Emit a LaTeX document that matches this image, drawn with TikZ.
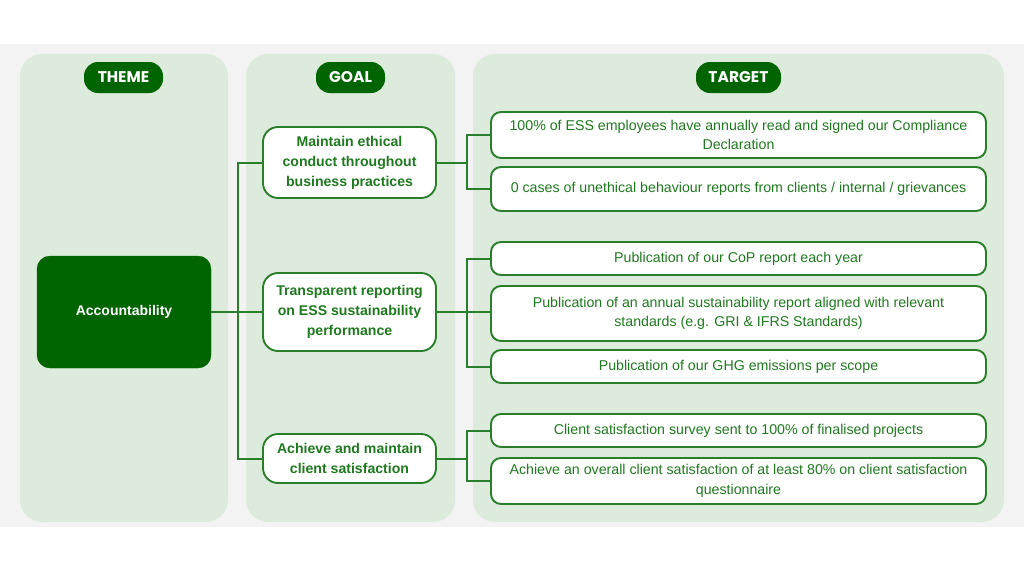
\documentclass[tikz,border=0pt]{standalone}
\usepackage{fontspec}
\setmainfont{Liberation Sans}
\newfontfamily\headfont{Poppins}
\definecolor{bandgray}{HTML}{F3F3F3}
\definecolor{panelgreen}{HTML}{DCEBDC}
\definecolor{darkgreen}{HTML}{006400}
\definecolor{linegreen}{HTML}{2A7F2A}
\definecolor{textgreen}{HTML}{1F7A1F}
\tikzset{
  panel/.style={fill=panelgreen, draw=none, rounded corners=22pt},
  pill/.style={fill=darkgreen, rounded corners=14pt, text=white, font=\headfont\bfseries\fontsize{15.5}{17}\selectfont, inner sep=0pt, minimum height=31pt},
  themebox/.style={fill=darkgreen, draw=darkgreen, rounded corners=13pt, text=white, font=\bfseries\fontsize{14}{20}\selectfont, minimum width=174pt, minimum height=112pt, inner sep=0pt},
  goalbox/.style={fill=white, draw=linegreen, line width=1.9pt, rounded corners=15pt, text=textgreen, font=\bfseries\fontsize{14.1}{20}\selectfont, align=center, minimum width=173pt, inner sep=0pt},
  targetbox/.style={fill=white, draw=linegreen, line width=1.9pt, rounded corners=10pt, text=textgreen, font=\fontsize{14.2}{19.5}\selectfont, align=center, minimum width=495pt, inner sep=0pt},
  conn/.style={draw=linegreen, line width=2pt},
}
\begin{document}
\begin{tikzpicture}[x=1pt,y=-1pt]
\useasboundingbox (0,0) rectangle (1024,576);
\fill[bandgray] (0,44) rectangle (1024,527);
% panels
\fill[panel] (20,54) rectangle (228,522);
\fill[panel] (246,54) rectangle (455,522);
\fill[panel] (473,54) rectangle (1004,522);
% headers
\node[pill, minimum width=79pt] (hTheme) at (123.5,77.5) {THEME};
\node[pill, minimum width=69pt] (hGoal) at (350.5,77.5) {GOAL};
\node[pill, minimum width=85pt] (hTarget) at (738.5,77.5) {TARGET};
% theme
\node[themebox] (acc) at (124,312) {Accountability};
% goals
\node[goalbox, minimum height=71pt] (g1) at (349.5,162.5) {Maintain ethical\\conduct throughout\\business practices};
\node[goalbox, minimum height=78pt] (g2) at (349.5,312) {Transparent reporting\\on ESS sustainability\\performance};
\node[goalbox, minimum height=49pt] (g3) at (349.5,458.5) {Achieve and maintain\\client satisfaction};
% targets
\node[targetbox, minimum height=46pt] (t1) at (738.5,135) {100\% of ESS employees have annually read and signed our Compliance\\Declaration};
\node[targetbox, minimum height=44pt] (t2) at (738.5,189) {0 cases of unethical behaviour reports from clients / internal / grievances};
\node[targetbox, minimum height=33pt] (t3) at (738.5,258.5) {Publication of our CoP report each year};
\node[targetbox, minimum height=55pt] (t4) at (738.5,313.5) {Publication of an annual sustainability report aligned with relevant\\standards (e.g. GRI \& IFRS Standards)};
\node[targetbox, minimum height=33pt] (t5) at (738.5,366.5) {Publication of our GHG emissions per scope};
\node[targetbox, minimum height=33pt] (t6) at (738.5,430.5) {Client satisfaction survey sent to 100\% of finalised projects};
\node[targetbox, minimum height=46pt] (t7) at (738.5,481) {Achieve an overall client satisfaction of at least 80\% on client satisfaction\\questionnaire};
% connectors theme -> goals
\coordinate (trunkTop) at (238,162.5);
\coordinate (trunkBot) at (238,458.5);
\draw[conn] (g1.west) -- (trunkTop) -- (trunkBot) -- (g3.west);
\draw[conn] (acc.east) -- (g2.west);
% goal1 -> targets
\coordinate (b1) at (467,162.5);
\draw[conn] (g1.east) -- (b1);
\draw[conn] (t1.west) -| (b1) |- (t2.west);
% goal2 -> targets
\coordinate (b2) at (467,312);
\draw[conn] (g2.east) -- (t4.west |- b2);
\draw[conn] (t3.west) -| (b2) |- (t5.west);
% goal3 -> targets
\coordinate (b3) at (467,458.5);
\draw[conn] (g3.east) -- (b3);
\draw[conn] (t6.west) -| (b3) |- (t7.west);
\end{tikzpicture}
\end{document}
